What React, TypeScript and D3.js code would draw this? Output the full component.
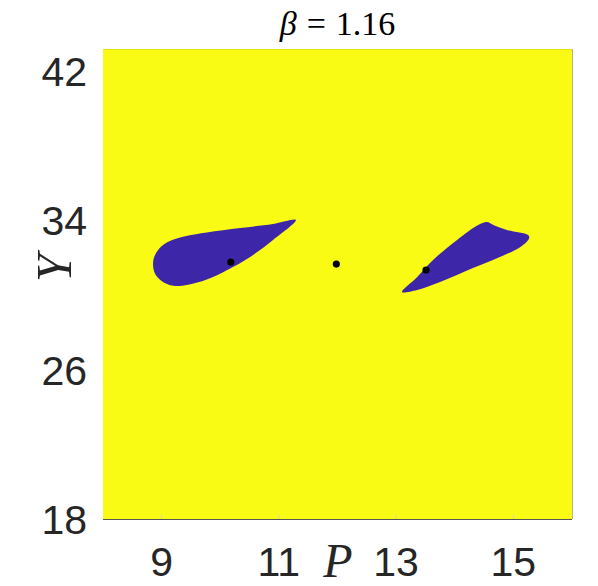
import React, { useEffect, useRef } from 'react';
import * as d3 from 'd3';

// axis setup
const xTicks = [9, 11, 13, 15];
const yTicks = [18, 26, 34, 42];
const xDomain = [8, 16];
const yDomain = [18, 43.2];
const beta = '1.16';

// outlines of the two low regions [P, Y]
const leftRegion = [
  [11.29, 34.03], [10.9, 33.82], [10.34, 33.6], [9.77, 33.36], [9.42, 33.17],
  [9.14, 32.9], [8.96, 32.5], [8.86, 31.9], [8.88, 31.2], [9.0, 30.76],
  [9.2, 30.5], [9.45, 30.56], [9.77, 30.84], [10.12, 31.35],
  [10.51, 32.05], [10.9, 32.96],
];
const rightRegion = [
  [13.1, 30.17], [13.36, 30.98], [13.63, 31.89], [14.04, 32.96], [14.4, 33.76],
  [14.55, 33.92], [14.66, 33.76], [14.89, 33.5], [15.25, 33.23], [15.27, 33.07],
  [15.12, 32.58], [14.77, 32.05], [14.31, 31.46], [13.75, 30.71], [13.36, 30.28],
];
// equilibrium points
const points = [
  [10.18, 31.78],
  [11.98, 31.67],
  [13.51, 31.35],
];

const W = 598;
const H = 586;
const margin = { top: 49, right: 26, bottom: 67, left: 103 };

const App = () => {
  const ref = useRef(null);

  useEffect(() => {
    const svg = d3.select(ref.current);
    svg.selectAll('*').remove();

    const x = d3.scaleLinear().domain(xDomain).range([margin.left, W - margin.right]);
    const y = d3.scaleLinear().domain(yDomain).range([H - margin.bottom, margin.top]);

    const textColor = '#262626';

    // yellow background (top of parula)
    svg.append('rect')
      .attr('x', x(xDomain[0]))
      .attr('y', y(yDomain[1]))
      .attr('width', x(xDomain[1]) - x(xDomain[0]))
      .attr('height', y(yDomain[0]) - y(yDomain[1]))
      .attr('fill', '#f9fb15');

    const line = d3.line()
      .x(d => x(d[0]))
      .y(d => y(d[1]))
      .curve(d3.curveCatmullRomClosed.alpha(0.5));

    svg.selectAll('.region')
      .data([leftRegion, rightRegion])
      .enter()
      .append('path')
      .attr('class', 'region')
      .attr('d', d => line(d))
      .attr('fill', '#3e26a8');

    svg.selectAll('.pt')
      .data(points)
      .enter()
      .append('circle')
      .attr('cx', d => x(d[0]))
      .attr('cy', d => y(d[1]))
      .attr('r', 3.6)
      .attr('fill', '#000');

    // box lines
    const x0 = x(xDomain[0]), x1 = x(xDomain[1]);
    const y0 = y(yDomain[0]), y1 = y(yDomain[1]);
    svg.append('line')
      .attr('x1', x0).attr('x2', x1).attr('y1', y0 + 0.5).attr('y2', y0 + 0.5)
      .attr('stroke', '#555').attr('stroke-width', 1);
    svg.append('line')
      .attr('x1', x1 + 0.5).attr('x2', x1 + 0.5).attr('y1', y1).attr('y2', y0)
      .attr('stroke', '#b0b0a0').attr('stroke-width', 1);
    svg.append('line')
      .attr('x1', x0).attr('x2', x1).attr('y1', y1 + 0.5).attr('y2', y1 + 0.5)
      .attr('stroke', '#e4e410').attr('stroke-width', 1);

    // small inward ticks
    svg.selectAll('.xtick')
      .data(xTicks)
      .enter()
      .append('line')
      .attr('x1', d => x(d)).attr('x2', d => x(d))
      .attr('y1', y0).attr('y2', y0 - 4)
      .attr('stroke', '#d8d8a0').attr('stroke-width', 1);

    svg.selectAll('.xlab')
      .data(xTicks)
      .enter()
      .append('text')
      .attr('x', d => x(d))
      .attr('y', 576)
      .attr('text-anchor', 'middle')
      .attr('font-family', 'Liberation Sans, Arial, sans-serif')
      .attr('font-size', 41)
      .attr('fill', textColor)
      .text(d => d);

    svg.selectAll('.ylab')
      .data(yTicks)
      .enter()
      .append('text')
      .attr('x', 87)
      .attr('y', d => y(d))
      .attr('dy', '0.36em')
      .attr('text-anchor', 'end')
      .attr('font-family', 'Liberation Sans, Arial, sans-serif')
      .attr('font-size', 41)
      .attr('fill', textColor)
      .text(d => d);

    // axis labels
    svg.append('text')
      .attr('x', 338)
      .attr('y', 577)
      .attr('text-anchor', 'middle')
      .attr('font-family', 'Liberation Serif, Times New Roman, serif')
      .attr('font-style', 'italic')
      .attr('font-size', 48)
      .attr('fill', textColor)
      .text('P');

    svg.append('text')
      .attr('transform', 'translate(71,268) rotate(-90)')
      .attr('text-anchor', 'middle')
      .attr('font-family', 'Liberation Serif, Times New Roman, serif')
      .attr('font-style', 'italic')
      .attr('font-size', 50)
      .attr('fill', textColor)
      .text('Y');

    // title
    const title = svg.append('text')
      .attr('x', (x0 + x1) / 2)
      .attr('y', 35)
      .attr('text-anchor', 'middle')
      .attr('font-family', 'Liberation Serif, Times New Roman, serif')
      .attr('font-size', 34)
      .attr('fill', '#000');
    title.append('tspan').attr('font-style', 'italic').text('β');
    title.append('tspan').attr('dx', 10).text('=');
    title.append('tspan').attr('dx', 10).text(beta);
  }, []);

  return (
    <svg
      ref={ref}
      width={W}
      height={H}
      style={{ position: 'absolute', left: 0, top: 0, background: '#fff' }}
    />
  );
};

export default App;
